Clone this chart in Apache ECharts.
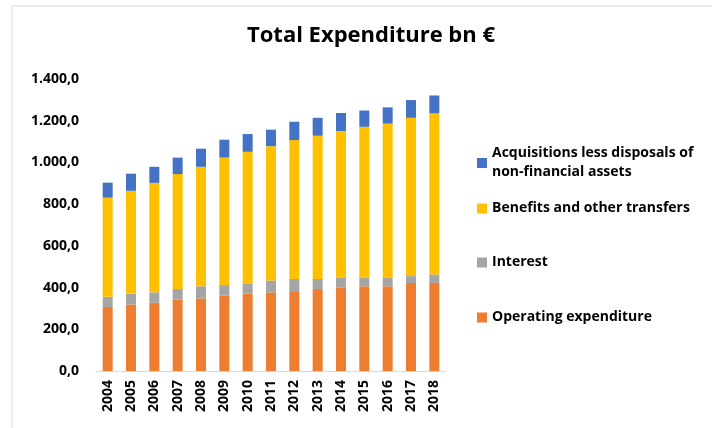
<!DOCTYPE html>
<html>
<head>
<meta charset="utf-8">
<title>Total Expenditure bn €</title>
<script src="https://cdn.jsdelivr.net/npm/echarts@6/dist/echarts.min.js"></script>
<style>
  * { margin: 0; padding: 0; }
  #main { width: 712px; height: 428px; background: #fff; }
</style>
</head>
<body>
<div id="main"></div>
<script>
// data (bn €)
const years = ['2004','2005','2006','2007','2008','2009','2010','2011','2012','2013','2014','2015','2016','2017','2018'];
const operating = [307, 319, 327, 343, 348, 362, 371, 377, 383, 393, 399, 406, 406, 422, 422];
const interest = [49, 52, 50, 50, 58, 50, 49, 57, 58, 48, 50, 43, 43, 33, 41];
const benefits = [475, 493, 525, 551, 573, 611, 631, 644, 666, 687, 701, 722, 737, 759, 772];
const acquisitions = [72, 82, 77, 79, 87, 86, 85, 79, 88, 86, 87, 78, 78, 85, 86];

const names = {
    acq: 'Acquisitions less disposals of\nnon-financial assets',
    ben: 'Benefits and other transfers',
    int: 'Interest',
    op: 'Operating expenditure'
};

const fontFam = '"Open Sans", "Noto Sans", sans-serif';

var chart = echarts.init(document.getElementById('main'), null, { renderer: 'canvas' });

// one legend per entry so the spacing follows the original
function legendAt(name, top) {
    return {
        data: [name],
        left: 472,
        top: top,
        orient: 'vertical',
        icon: 'rect',
        itemWidth: 10,
        itemHeight: 10,
        itemGap: 0,
        textStyle: { fontFamily: fontFam, fontWeight: 'bold', fontSize: 14, color: '#000', lineHeight: 19 },
        selectedMode: false
    };
}

function barSeries(name, data, color) {
    return {
        name: name,
        type: 'bar',
        stack: 'total',
        data: data,
        barWidth: 10,
        itemStyle: { color: color },
        emphasis: { disabled: true }
    };
}

const option = {
    animation: false,
    title: {
        text: 'Total Expenditure bn €',
        left: 366,
        textAlign: 'center',
        top: 20,
        textStyle: { fontFamily: fontFam, fontWeight: 'bold', fontSize: 22, color: '#000' }
    },
    legend: [
        legendAt(names.acq, 139),
        legendAt(names.ben, 194),
        legendAt(names.int, 248),
        legendAt(names.op, 303)
    ],
    grid: { left: 96, right: 266, top: 79, bottom: 57 },
    xAxis: {
        type: 'category',
        data: years,
        axisLine: { show: true, lineStyle: { color: '#d9d9d9' } },
        axisTick: { show: false },
        axisLabel: {
            rotate: 90,
            interval: 0,
            margin: 9,
            fontFamily: fontFam,
            fontWeight: 'bold',
            fontSize: 14,
            color: '#000'
        }
    },
    yAxis: {
        type: 'value',
        min: 0,
        max: 1400,
        interval: 200,
        axisLine: { show: false },
        axisTick: { show: false },
        splitLine: { show: false },
        axisLabel: {
            margin: 17,
            fontFamily: fontFam,
            fontWeight: 'bold',
            fontSize: 14,
            color: '#000',
            formatter: v => {
                const s = v.toFixed(1).replace('.', ',');
                return v >= 1000 ? s.replace(/^(\d)(\d{3})/, '$1.$2') : s;
            }
        }
    },
    graphic: [{
        type: 'rect',
        shape: { x: 12, y: 6, width: 720, height: 440 },
        style: { fill: 'none', stroke: '#d9d9d9', lineWidth: 1 },
        silent: true
    }],
    series: [
        barSeries(names.op, operating, '#ED7D31'),
        barSeries(names.int, interest, '#A5A5A5'),
        barSeries(names.ben, benefits, '#FFC000'),
        barSeries(names.acq, acquisitions, '#4472C4')
    ]
};

chart.setOption(option);
</script>
</body>
</html>
